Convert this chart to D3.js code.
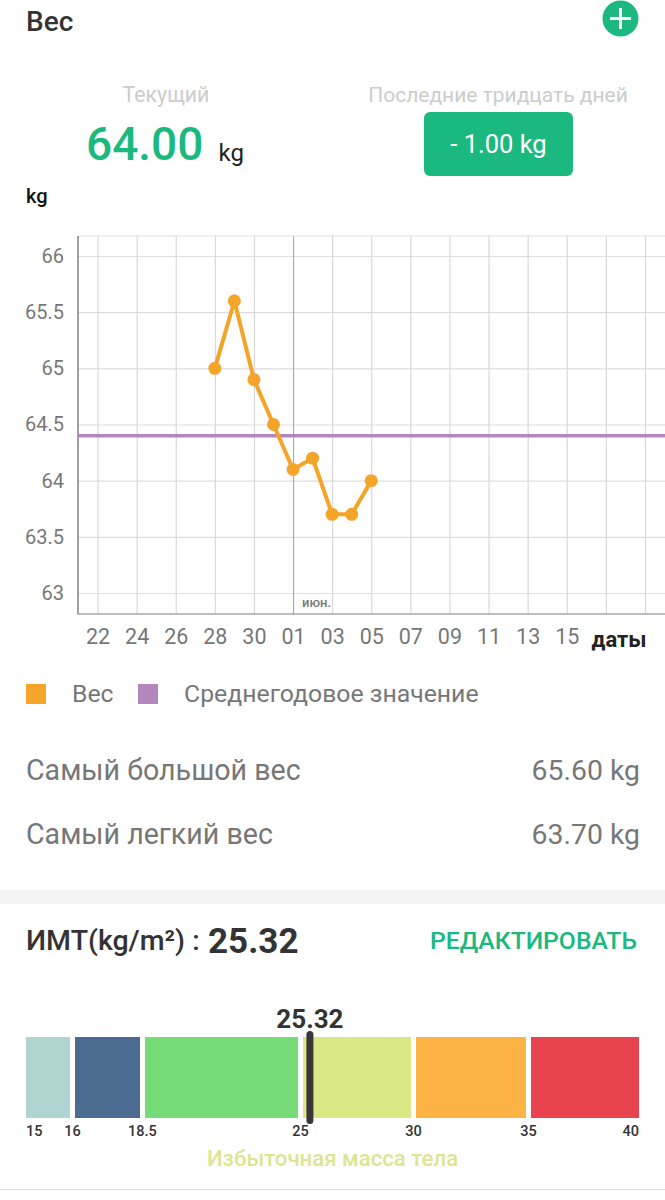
<!DOCTYPE html>
<html><head><meta charset="utf-8">
<script src="https://cdnjs.cloudflare.com/ajax/libs/d3/7.8.5/d3.min.js"></script>
<style>html,body{margin:0;padding:0;background:#fff}svg{display:block;font-family:Roboto,sans-serif}</style>
</head><body><svg id="c" width="665" height="1200"></svg>
<script>
const weightDates = ["2023-05-28","2023-05-29","2023-05-30","2023-05-31","2023-06-01","2023-06-02","2023-06-03","2023-06-04","2023-06-05"];
const weightValues = [65,65.6,64.9,64.5,64.1,64.2,63.7,63.7,64];
const yearlyAverage = 64.4;
const yTicks = [63,63.5,64,64.5,65,65.5,66];
const firstTick = "2023-05-22", lastLabeledTick = "2023-06-15", lastTick = "2023-06-20", tickStepDays = 2;
const legendLabels = ["Вес","Среднегодовое значение"];
const statLabels = ["Самый большой вес","Самый легкий вес"];
const statValues = ["65.60 kg","63.70 kg"];
const bmiValue = 25.32;
const bmiStops = [15,16,18.5,25,30,35,40];
const bmiColors = ["#b0d4cf","#4b6b92","#75dc78","#dbe684","#fdb246","#ea4350"];

const GREEN="#1bb97f", ORANGE="#f4a428", PURPLE="#b387bd", GREY="#777";
const svg=d3.select("#c");
const T=(x,y,s,size,fill,weight=400,anchor="start")=>svg.append("text").attr("x",x).attr("y",y).text(s)
  .attr("font-size",size).attr("fill",fill).attr("font-weight",weight).attr("text-anchor",anchor);

// header
T(26,31,"Вес",28,"#333",500);
svg.append("circle").attr("cx",620.5).attr("cy",18.5).attr("r",18).attr("fill",GREEN);
svg.append("path").attr("d","M620.5 8v21M610 18.5h21").attr("stroke","#fff").attr("stroke-width",3);
T(166,102,"Текущий",21.3,"#ccc",400,"middle");
T(498,102,"Последние тридцать дней",21,"#ccc",400,"middle");
T(86,160,"64.00",46,GREEN,500);
T(218.5,161,"kg",24,"#222");
svg.append("rect").attr("x",424).attr("y",112).attr("width",149).attr("height",64).attr("rx",6).attr("fill",GREEN);
T(498.5,153,"- 1.00 kg",25.5,"#fff",400,"middle");
T(26,203,"kg",20,"#111",500);

// chart
const L=78,R=664.5,TOP=236,BOT=614;
const parse=d3.utcParse("%Y-%m-%d");
const x=d3.scaleUtc().domain([d3.utcDay.offset(parse(firstTick),-1),d3.utcDay.offset(parse(firstTick),29)]).range([L,R]);
const y=d3.scaleLinear().domain([62.813,66.178]).range([BOT,TOP]);
const days=d3.utcDay.range(parse(firstTick),parse(lastTick),tickStepDays);
const fmtDay=d3.utcFormat("%d");

const yAxis=svg.append("g").attr("transform",`translate(${L},0)`)
  .call(d3.axisLeft(y).tickValues(yTicks).tickFormat(d3.format("~g")).tickSize(-(665-L)).tickPadding(14));
yAxis.select(".domain").remove();
yAxis.selectAll("line").attr("stroke","#dedede").attr("stroke-width",1.2);
yAxis.selectAll("text").attr("font-size",20).attr("fill",GREY).attr("font-family","Roboto");

const xAxis=svg.append("g").attr("transform",`translate(0,${BOT})`)
  .call(d3.axisBottom(x).tickValues(days).tickFormat(d=>d>parse(lastLabeledTick)?"":fmtDay(d)).tickSize(-(BOT-TOP)).tickPadding(15));
xAxis.select(".domain").remove();
xAxis.selectAll("line").attr("stroke",d=>d.getUTCDate()===1?"#a8a8a8":"#d6d6d6").attr("stroke-width",1.1);
xAxis.selectAll("text").attr("font-size",21.5).attr("fill",GREY).attr("font-family","Roboto");

svg.append("line").attr("x1",L).attr("x2",665).attr("y1",TOP).attr("y2",TOP).attr("stroke","#dedede").attr("stroke-width",1.2);
svg.append("line").attr("x1",L).attr("x2",L).attr("y1",TOP).attr("y2",BOT+.5).attr("stroke","#808080").attr("stroke-width",1.5);
svg.append("line").attr("x1",L).attr("x2",665).attr("y1",BOT).attr("y2",BOT).attr("stroke","#a8a8a8").attr("stroke-width",1.5);
T(302,607,"июн.",13,GREY,500);
T(619,647,"даты",22,"#222",700,"middle");

svg.append("line").attr("x1",L).attr("x2",665).attr("y1",y(yearlyAverage)).attr("y2",y(yearlyAverage)).attr("stroke",PURPLE).attr("stroke-width",3.5);
const pts=weightDates.map((d,i)=>[parse(d),weightValues[i]]);
svg.append("path").attr("d",d3.line().x(d=>x(d[0])).y(d=>y(d[1]))(pts)).attr("fill","none").attr("stroke",ORANGE).attr("stroke-width",4);
svg.selectAll(".pt").data(pts).join("circle").attr("class","pt").attr("cx",d=>x(d[0])).attr("cy",d=>y(d[1])).attr("r",6.5).attr("fill",ORANGE);

// legend
[[26,ORANGE,72],[138,PURPLE,184]].forEach(([lx,c,tx],i)=>{
  svg.append("rect").attr("x",lx).attr("y",684).attr("width",20).attr("height",20).attr("fill",c);
  T(tx,702,legendLabels[i],24.8,GREY);
});

// stats
statLabels.forEach((s,i)=>{
  T(26,779.5+i*64,s,28.6,GREY);
  T(640,779.5+i*64,statValues[i],28.4,GREY,400,"end");
});
svg.append("rect").attr("x",0).attr("y",890).attr("width",665).attr("height",14).attr("fill","#f4f4f4");

// BMI
T(26,950,"ИМТ(kg/m²) :",28.5,"#333",500);
T(208,953,"25.32",35,"#333",700);
T(637,949,"РЕДАКТИРОВАТЬ",24.7,GREEN,500,"end");

const bx=d3.scaleLinear().domain(bmiStops).range([23.5,72.5,142.5,300.5,413.5,528.5,641.5]);
const GAP=2.5;
const segs=d3.pairs(bmiStops);
svg.selectAll(".seg").data(segs).join("rect").attr("class","seg")
  .attr("x",d=>bx(d[0])+GAP).attr("width",d=>bx(d[1])-bx(d[0])-2*GAP)
  .attr("y",1037).attr("height",81).attr("fill",(d,i)=>bmiColors[i]);
bmiStops.forEach((v,i)=>{
  const n=bmiStops.length;
  const a=i===0?"start":i===n-1?"end":"middle";
  const px=i===0?bx(v)+GAP:i===n-1?bx(v)-GAP:bx(v);
  T(px,1136,String(v),14.5,"#333",500,a);
});
const seg=segs.find(s=>bmiValue>=s[0]&&bmiValue<s[1]);
const mx=d3.scaleLinear().domain(seg).range([bx(seg[0])+GAP,bx(seg[1])-GAP])(bmiValue);
svg.append("rect").attr("x",mx-3.5).attr("y",1031).attr("width",7).attr("height",93).attr("rx",3.5).attr("fill","#383838");
T(mx,1028,String(bmiValue),26,"#333",700,"middle");
T(332.5,1166,"Избыточная масса тела",22.2,"#dde592",500,"middle");
svg.append("line").attr("x1",0).attr("x2",665).attr("y1",1189.5).attr("y2",1189.5).attr("stroke","#ddd").attr("stroke-width",1);
</script></body></html>
